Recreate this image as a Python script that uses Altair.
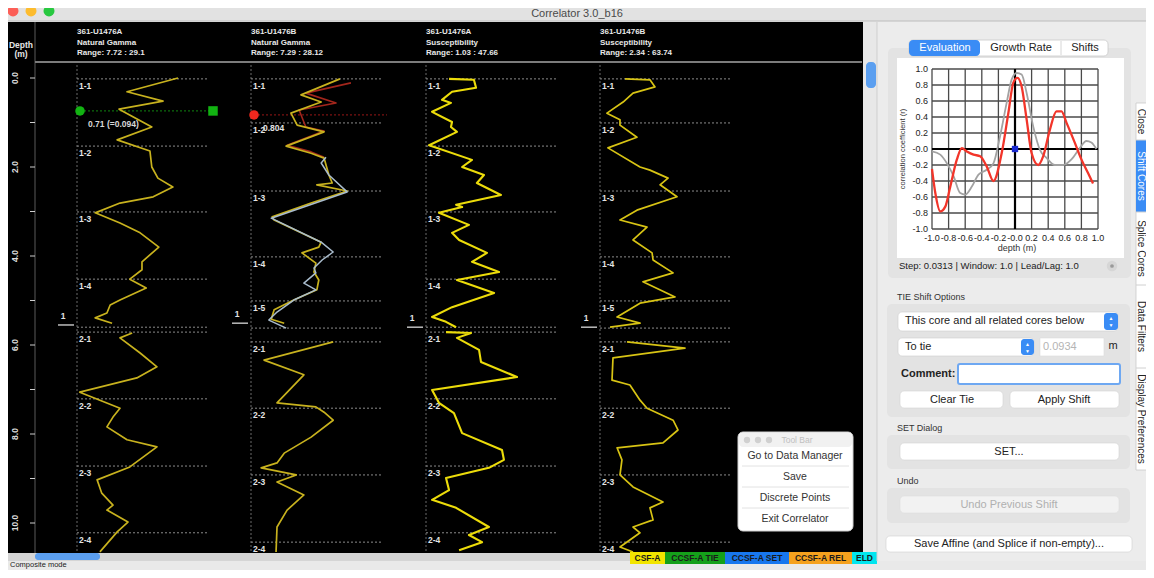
import altair as alt
import pandas as pd

FONT = "Liberation Sans"

# ---------------- data ----------------
TRACK_HOLE = ["361-U1476A", "361-U1476B", "361-U1476A", "361-U1476B"]
TRACK_TYPE = ["Natural Gamma", "Natural Gamma", "Susceptibility", "Susceptibility"]
TRACK_RANGE = ["Range: 7.72 : 29.1", "Range: 7.29 : 28.12", "Range: 1.03 : 47.66", "Range: 2.34 : 63.74"]
TRACK_MIN = [7.72, 7.29, 1.03, 2.34]
TRACK_MAX = [29.1, 28.12, 47.66, 63.74]

# Track 1: U1476A natural gamma
T1_DEPTH_C1 = [0.00, 0.31, 0.52, 0.70, 1.10, 1.39, 1.64, 2.00, 2.25, 2.45, 2.67, 2.81, 3.03, 3.26, 3.48,
               3.80, 4.13, 4.31, 4.52, 4.72, 4.99, 5.10, 5.28, 5.39, 5.51]
T1_VAL_C1 = [29.1, 18.2, 25.9, 16.5, 23.5, 16.1, 23.1, 23.5, 24.8, 28.0, 23.8, 16.7, 11.4, 16.7, 21.0,
             25.0, 21.4, 21.4, 18.8, 22.3, 16.7, 14.6, 13.9, 11.4, 15.0]
T1_DEPTH_C2 = [5.73, 5.84, 6.18, 6.49, 6.74, 7.06, 7.24, 7.42, 7.62, 7.84, 8.13, 8.29, 8.74, 9.03, 9.33,
               9.60, 9.71, 9.98, 10.20, 10.65]
T1_VAL_C2 = [19.3, 16.7, 21.0, 24.6, 20.3, 8.1, 12.4, 16.7, 15.2, 13.9, 18.2, 24.6, 18.8, 11.8, 12.8,
             15.2, 13.9, 18.4, 16.1, 12.4]

# Track 2: U1476B natural gamma
T2_DEPTH_C1 = [0.02, 0.38, 0.54, 0.79, 1.06, 1.21, 1.53, 1.69, 1.80, 2.18, 2.36, 2.40, 2.54, 2.81, 3.12,
               3.19, 3.69, 3.80, 3.93, 4.16, 4.36, 4.54, 4.76, 4.99, 5.21, 5.42, 5.51]
T2_VAL_C1 = [25.6, 17.5, 21.7, 15.4, 16.7, 22.3, 14.4, 19.6, 22.3, 23.3, 24.0, 20.8, 27.1, 19.6, 11.5,
             11.9, 21.7, 21.2, 17.7, 20.6, 20.2, 21.2, 20.8, 16.0, 11.9, 11.3, 14.0]
T2_DEPTH_C2 = [5.93, 6.34, 6.67, 7.30, 7.39, 7.51, 7.69, 8.07, 8.43, 8.65, 8.76, 8.92, 9.08, 9.37, 9.71,
               10.09, 10.65]
T2_VAL_C2 = [24.2, 9.8, 18.1, 12.5, 20.6, 22.3, 24.2, 19.6, 14.0, 12.5, 9.2, 16.5, 12.5, 18.1, 14.6,
             12.5, 12.3]
T2_RED_DEPTH = [0.11, 0.34, 0.56, 0.72, 1.10, 1.19, 1.51, 1.66, 1.78]
T2_RED_VAL = [27.9, 18.5, 24.8, 17.1, 18.5, 22.3, 14.6, 19.6, 22.3]
T2_BLUE_DEPTH = [1.78, 1.91, 2.18, 2.56, 3.15, 3.69, 3.91, 4.09, 4.27, 4.38, 4.61, 4.76, 4.99, 5.26, 5.44, 5.62]
T2_BLUE_VAL = [22.7, 21.7, 23.3, 27.1, 11.3, 21.7, 24.2, 21.9, 20.2, 20.6, 18.1, 20.6, 16.0, 12.5, 10.8, 14.4]

# Track 3: U1476A susceptibility
T3_DEPTH_C1 = [0.02, 0.04, 0.22, 0.31, 0.49, 0.56, 0.76, 0.99, 1.10, 1.21, 1.51, 1.84, 2.00, 2.18, 2.36,
               2.63, 2.85, 2.90, 3.03, 3.30, 3.48, 3.64, 3.93, 4.13, 4.36, 4.54, 4.83, 5.15, 5.37, 5.48, 5.60]
T3_VAL_C1 = [11.3, 22.9, 23.9, 12.7, 8.0, 12.2, 3.4, 12.7, 12.2, 15.0, 2.0, 22.0, 17.4, 27.6, 24.3,
             35.5, 14.6, 17.4, 6.6, 20.6, 12.7, 16.0, 29.0, 22.0, 34.6, 15.0, 32.3, 12.7, 3.4, 9.9, 14.6]
T3_DEPTH_C2 = [5.71, 5.73, 5.84, 6.11, 6.38, 6.72, 7.01, 7.30, 7.53, 7.98, 8.36, 8.58, 8.76, 8.99, 9.26,
               9.48, 9.66, 10.09, 10.27, 10.43, 10.61]
T3_VAL_C2 = [9.9, 21.6, 15.0, 25.3, 26.2, 43.0, 3.4, 6.6, 13.6, 17.4, 36.0, 36.9, 29.9, 9.9, 11.3,
             3.4, 14.6, 29.9, 20.6, 26.7, 16.0]

# Track 4: U1476B susceptibility
T4_DEPTH_C1 = [0.02, 0.04, 0.20, 0.34, 0.54, 0.79, 0.94, 1.06, 1.33, 1.57, 2.00, 2.07, 2.25, 2.40, 2.67,
               2.97, 3.19, 3.35, 3.64, 3.93, 4.09, 4.38, 4.58, 4.92, 5.06, 5.37, 5.51, 5.60]
T4_VAL_C1 = [17.1, 32.4, 35.5, 22.0, 15.9, 6.0, 14.0, 14.0, 24.4, 6.6, 26.3, 32.4, 43.5, 38.6, 49.0,
             24.4, 14.0, 30.6, 22.0, 33.7, 34.3, 46.6, 28.1, 47.8, 26.3, 12.2, 26.3, 7.9]
T4_DEPTH_C2 = [5.93, 6.07, 6.29, 6.79, 6.90, 7.24, 7.42, 7.69, 7.91, 8.20, 8.31, 8.58, 8.92, 9.19, 9.53,
               9.66, 9.93, 10.09, 10.22, 10.54, 10.65]
T4_VAL_C2 = [18.3, 53.9, 9.7, 9.1, 20.1, 26.3, 30.6, 46.6, 49.6, 40.4, 12.2, 15.2, 14.0, 22.0, 40.4,
             32.4, 34.3, 22.0, 26.3, 14.0, 22.0]

# section tops
SECT_A_DEPTH = [0.02, 1.53, 3.01, 4.52, 5.60, 5.71, 7.21, 8.72, 10.22]
SECT_A_LABEL = ["1-1", "1-2", "1-3", "1-4", "", "2-1", "2-2", "2-3", "2-4"]
SECT_B_DEPTH = [0.02, 1.01, 2.54, 4.02, 5.01, 5.62, 5.93, 7.42, 8.92, 10.43]
SECT_B_LABEL = ["1-1", "1-2", "1-3", "1-4", "1-5", "", "2-1", "2-2", "2-3", "2-4"]
CORE_MARK_DEPTH = [5.55, 5.51, 5.60, 5.60]
CORE_MARK_LABEL = ["1", "1", "1", "1"]
TIE_DEPTH = [0.74, 0.83]
TIE_TEXT = ["0.71 (=0.094)", "0.804"]

DEPTH_TICKS = [0, 1, 2, 3, 4, 5, 6, 7, 8, 9, 10]
DEPTH_LABEL_VALUES = [0, 2, 4, 6, 8, 10]
DEPTH_LABELS = ["0.0", "2.0", "4.0", "6.0", "8.0", "10.0"]

# correlation evaluation
CORR_RED_X = [-1.0, -0.96, -0.90, -0.84, -0.78, -0.70, -0.64, -0.58, -0.50, -0.42, -0.34, -0.26, -0.16,
              -0.08, -0.02, 0.03, 0.08, 0.14, 0.20, 0.28, 0.34, 0.42, 0.50, 0.56, 0.62, 0.72, 0.80, 0.88, 0.94]
CORR_RED_Y = [-0.25, -0.55, -0.78, -0.72, -0.47, -0.13, 0.01, -0.03, -0.07, -0.09, -0.22, -0.40, -0.05,
              0.45, 0.83, 0.89, 0.78, 0.37, -0.05, -0.20, -0.09, 0.24, 0.47, 0.47, 0.33, 0.08, -0.13, -0.30, -0.43]
CORR_GRAY_X = [-1.0, -0.90, -0.82, -0.74, -0.66, -0.60, -0.52, -0.44, -0.34, -0.26, -0.18, -0.10, -0.04,
               0.02, 0.08, 0.14, 0.22, 0.30, 0.38, 0.48, 0.58, 0.68, 0.78, 0.86, 0.92, 0.98]
CORR_GRAY_Y = [-0.03, -0.07, -0.18, -0.34, -0.55, -0.57, -0.47, -0.32, -0.26, -0.18, 0.16, 0.58, 0.87,
               0.95, 0.93, 0.70, 0.28, -0.01, -0.11, -0.20, -0.20, -0.13, 0.01, 0.10, 0.08, 0.0]
CORR_TICKS = [-1.0, -0.8, -0.6, -0.4, -0.2, 0.0, 0.2, 0.4, 0.6, 0.8, 1.0]
CORR_X_LABELS = ["-1.0", "-0.8", "-0.6", "-0.4", "-0.2", "-0.0", "0.2", "0.4", "0.6", "0.8", "1.0"]
CORR_Y_LABELS = ["-1.0", "-0.8", "-0.6", "-0.4", "-0.2", "-0.0", "0.2", "0.4", "0.6", "0.8", "1.0"]

LEGEND_LABELS = ["CSF-A", "CCSF-A TIE", "CCSF-A SET", "CCSF-A REL", "ELD"]
LEGEND_COLORS = ["#f2e500", "#15a01a", "#1877ee", "#f5a11e", "#00e6ef"]

TOOLBAR_ITEMS = ["Go to Data Manager", "Save", "Discrete Points", "Exit Correlator"]
SIDE_TABS = ["Close", "Shift Cores", "Splice Cores", "Data Filters", "Display Preferences"]

# ---------------- helpers ----------------
BLANK = pd.DataFrame({"k": [0]})
layers = []


def box(x1, y1, x2, y2, fill, stroke=None, sw=1.0, r=0, op=1.0):
    kw = dict(fill=fill, cornerRadius=r, opacity=op)
    if stroke:
        kw.update(stroke=stroke, strokeWidth=sw)
    else:
        kw.update(strokeWidth=0)
    layers.append(alt.Chart(BLANK).mark_rect(**kw).encode(
        x=alt.value(x1), x2=alt.value(x2), y=alt.value(y1), y2=alt.value(y2)))


def label(x, y, s, size=10, color="#222", align="left", weight="normal", angle=0):
    kw = dict(text=s, align=align, baseline="middle", fontSize=size, color=color,
              fontWeight=weight, font=FONT)
    if angle:
        kw["angle"] = angle
    layers.append(alt.Chart(BLANK).mark_text(**kw).encode(x=alt.value(x), y=alt.value(y)))


def seg(x1, y1, x2, y2, color, sw=1.0, dash=None):
    kw = dict(color=color, strokeWidth=sw)
    if dash:
        kw["strokeDash"] = dash
    layers.append(alt.Chart(BLANK).mark_rule(**kw).encode(
        x=alt.value(x1), x2=alt.value(x2), y=alt.value(y1), y2=alt.value(y2)))


def dot(x, y, color, size, shape="circle"):
    layers.append(alt.Chart(BLANK).mark_point(shape=shape, filled=True, size=size, color=color, opacity=1)
                  .encode(x=alt.value(x), y=alt.value(y)))


def dscale():
    return alt.Scale(domain=[0, 10], range=[78, 523], zero=False, nice=False)


TRACK_X = [77, 251, 426, 600]


def tscale(i):
    return alt.Scale(domain=[TRACK_MIN[i], TRACK_MAX[i]], range=[TRACK_X[i] + 1, TRACK_X[i] + 101],
                     zero=False, nice=False)


def log_line(i, depths, vals, color, width):
    df = pd.DataFrame({"depth": depths, "val": vals, "n": list(range(len(depths)))})
    layers.append(alt.Chart(df).mark_line(color=color, strokeWidth=width, strokeJoin="round").encode(
        x=alt.X("val:Q", scale=tscale(i), axis=None),
        y=alt.Y("depth:Q", scale=dscale(), axis=None),
        order=alt.Order("n:Q")))


# ---------------- window chrome ----------------
box(0, 0, 1154, 21, "#e2e2e2")
seg(0, 21, 1154, 21, "#bcbcbc")
label(577, 14, "Correlator 3.0_b16", size=11, color="#4a4a4a", align="center")
dot(13, 11, "#fc5f57", 120)
dot(31, 11, "#fdbc2e", 120)
dot(49, 11, "#28c840", 120)

# main black panel
box(5, 22, 863, 553, "#000000")
box(863, 22, 877, 553, "#e8e8e8")
box(866, 62, 876, 88, "#5b9ff0", r=4)
box(5, 553, 877, 561, "#d5d5d5")
box(35, 553, 100, 560, "#5b9ff0", r=3)
box(0, 561, 1154, 578, "#e9e9e9")
label(10, 565, "Composite mode", size=7.5, color="#222")

seg(35, 22, 35, 553, "#5a5a5a", 1)
seg(35, 62, 862, 62, "#7c7c7c", 2)
label(21, 45, "Depth", size=8.5, color="#e6e6e6", align="center", weight="bold")
label(21, 54, "(m)", size=8.5, color="#e6e6e6", align="center", weight="bold")

# depth axis through depth scale
dt = pd.DataFrame({"d": DEPTH_TICKS})
layers.append(alt.Chart(dt).mark_rule(color="#cfcfcf", strokeWidth=1).encode(
    x=alt.value(30), x2=alt.value(35), y=alt.Y("d:Q", scale=dscale(), axis=None)))
dl = pd.DataFrame({"d": DEPTH_LABEL_VALUES, "t": DEPTH_LABELS})
layers.append(alt.Chart(dl).mark_text(angle=270, fontSize=8.5, fontWeight="bold", color="#dcdcdc",
                                      font=FONT, align="center", baseline="middle").encode(
    x=alt.value(15), y=alt.Y("d:Q", scale=dscale(), axis=None), text="t:N"))

# track headers and frames
for i, tx in enumerate(TRACK_X):
    label(tx, 32, TRACK_HOLE[i], size=8, color="#e8e8e8", weight="bold")
    label(tx, 43, TRACK_TYPE[i], size=8, color="#e8e8e8", weight="bold")
    label(tx, 53, TRACK_RANGE[i], size=8, color="#e8e8e8", weight="bold")
    seg(tx, 65, tx, 553, "#6a6a6a", 1, [2, 2])
    sd = SECT_A_DEPTH if i in (0, 2) else SECT_B_DEPTH
    sl = SECT_A_LABEL if i in (0, 2) else SECT_B_LABEL
    sdf = pd.DataFrame({"d": sd, "t": sl})
    layers.append(alt.Chart(sdf).mark_rule(color="#8c8c8c", strokeWidth=1, strokeDash=[2, 2]).encode(
        x=alt.value(tx), x2=alt.value(tx + 131), y=alt.Y("d:Q", scale=dscale(), axis=None)))
    layers.append(alt.Chart(sdf).mark_text(align="left", baseline="middle", dy=7, fontSize=8.5,
                                           fontWeight="bold", color="#e4e4e4", font=FONT).encode(
        x=alt.value(tx + 2), y=alt.Y("d:Q", scale=dscale(), axis=None), text="t:N"))
    cm = pd.DataFrame({"d": [CORE_MARK_DEPTH[i]], "t": [CORE_MARK_LABEL[i]]})
    layers.append(alt.Chart(cm).mark_rule(color="#bdbdbd", strokeWidth=1.5).encode(
        x=alt.value(tx - 19), x2=alt.value(tx - 3), y=alt.Y("d:Q", scale=dscale(), axis=None)))
    layers.append(alt.Chart(cm).mark_text(align="center", baseline="middle", dy=-9, fontSize=8.5,
                                          fontWeight="bold", color="#e4e4e4", font=FONT).encode(
        x=alt.value(tx - 14), y=alt.Y("d:Q", scale=dscale(), axis=None), text="t:N"))

# tie markers
tie1 = pd.DataFrame({"d": [TIE_DEPTH[0]], "t": [TIE_TEXT[0]]})
tie2 = pd.DataFrame({"d": [TIE_DEPTH[1]], "t": [TIE_TEXT[1]]})
layers.append(alt.Chart(tie1).mark_rule(color="#0c6a0c", strokeWidth=1.2, strokeDash=[2, 2]).encode(
    x=alt.value(80), x2=alt.value(213), y=alt.Y("d:Q", scale=dscale(), axis=None)))
layers.append(alt.Chart(tie1).mark_point(shape="circle", filled=True, size=90, color="#12b312", opacity=1).encode(
    x=alt.value(80), y=alt.Y("d:Q", scale=dscale(), axis=None)))
layers.append(alt.Chart(tie1).mark_point(shape="square", filled=True, size=90, color="#12b312", opacity=1).encode(
    x=alt.value(213), y=alt.Y("d:Q", scale=dscale(), axis=None)))
layers.append(alt.Chart(tie1).mark_text(align="left", baseline="middle", dy=13, fontSize=8.5,
                                        fontWeight="bold", color="#d8d8d8", font=FONT).encode(
    x=alt.value(88), y=alt.Y("d:Q", scale=dscale(), axis=None), text="t:N"))
layers.append(alt.Chart(tie2).mark_rule(color="#7a1212", strokeWidth=1.2, strokeDash=[2, 2]).encode(
    x=alt.value(254), x2=alt.value(387), y=alt.Y("d:Q", scale=dscale(), axis=None)))
layers.append(alt.Chart(tie2).mark_point(shape="circle", filled=True, size=90, color="#f0281e", opacity=1).encode(
    x=alt.value(254), y=alt.Y("d:Q", scale=dscale(), axis=None)))
layers.append(alt.Chart(tie2).mark_text(align="left", baseline="middle", dy=13, fontSize=8.5,
                                        fontWeight="bold", color="#e4e4e4", font=FONT).encode(
    x=alt.value(263), y=alt.Y("d:Q", scale=dscale(), axis=None), text="t:N"))

# log curves
GOLD = "#c8b21e"
log_line(0, T1_DEPTH_C1, T1_VAL_C1, GOLD, 1.7)
log_line(0, T1_DEPTH_C2, T1_VAL_C2, GOLD, 1.7)
log_line(1, T2_RED_DEPTH, T2_RED_VAL, "#a3261c", 1.6)
log_line(1, T2_DEPTH_C1, T2_VAL_C1, GOLD, 1.7)
log_line(1, T2_BLUE_DEPTH, T2_BLUE_VAL, "#a9bccd", 1.5)
log_line(1, T2_DEPTH_C2, T2_VAL_C2, GOLD, 1.7)
log_line(2, T3_DEPTH_C1, T3_VAL_C1, "#ecdc0a", 2.1)
log_line(2, T3_DEPTH_C2, T3_VAL_C2, "#ecdc0a", 2.1)
log_line(3, T4_DEPTH_C1, T4_VAL_C1, "#d8c414", 1.7)
log_line(3, T4_DEPTH_C2, T4_VAL_C2, "#d8c414", 1.7)

# legend strip
LEG_X = [630, 665, 725, 789, 852, 877]
for i, (lab, col) in enumerate(zip(LEGEND_LABELS, LEGEND_COLORS)):
    box(LEG_X[i], 552, LEG_X[i + 1], 564, col)
    label((LEG_X[i] + LEG_X[i + 1]) / 2, 558, lab, size=8.5, color="#1a1a1a", align="center", weight="bold")

# tool bar popup
box(738, 432, 853, 531, "#ffffff", stroke="#cfcfcf", r=5)
box(739, 433, 852, 447, "#f1f1f1", r=4)
for cx in (747, 758, 769):
    dot(cx, 440, "#d0d0d0", 40)
label(797, 440, "Tool Bar", size=8.5, color="#c0c0c0", align="center")
for k, item in enumerate(TOOLBAR_ITEMS):
    yy = 456 + k * 21
    label(795, yy, item, size=10.5, color="#333", align="center")
    if k < 3:
        seg(742, yy + 10, 849, yy + 10, "#e2e2e2", 1)

# ---------------- right panel ----------------
seg(877, 22, 877, 561, "#cfcfcf", 1)
box(888, 48, 1131, 278, "#e3e3e3", r=5)
box(897, 58, 1124, 258, "#ffffff")
box(909, 40, 1108, 56, "#ffffff", stroke="#c9c9c9", sw=0.8, r=4)
box(909, 40, 980, 56, "#3a8cf5", r=4)
seg(1061, 41, 1061, 55, "#d6d6d6", 1)
label(945, 48, "Evaluation", size=11, color="#ffffff", align="center")
label(1021, 48, "Growth Rate", size=11, color="#222", align="center")
label(1085, 48, "Shifts", size=11, color="#222", align="center")

CX = alt.Scale(domain=[-1, 1], range=[932, 1098], zero=False, nice=False)
CY = alt.Scale(domain=[-1, 1], range=[229, 69], zero=False, nice=False)
grid = pd.DataFrame({"v": CORR_TICKS, "lo": [-1.0] * 11, "hi": [1.0] * 11,
                     "xl": CORR_X_LABELS, "yl": CORR_Y_LABELS})
layers.append(alt.Chart(grid).mark_rule(color="#4a4a4a", strokeWidth=1.3).encode(
    x=alt.X("v:Q", scale=CX, axis=None), y=alt.Y("lo:Q", scale=CY, axis=None), y2="hi:Q"))
layers.append(alt.Chart(grid).mark_rule(color="#4a4a4a", strokeWidth=1.3).encode(
    y=alt.Y("v:Q", scale=CY, axis=None), x=alt.X("lo:Q", scale=CX, axis=None), x2="hi:Q"))
zero = pd.DataFrame({"z": [0.0], "lo": [-1.0], "hi": [1.0]})
layers.append(alt.Chart(zero).mark_rule(color="#000", strokeWidth=2.2).encode(
    x=alt.X("z:Q", scale=CX, axis=None), y=alt.Y("lo:Q", scale=CY, axis=None), y2="hi:Q"))
layers.append(alt.Chart(zero).mark_rule(color="#000", strokeWidth=2.2).encode(
    y=alt.Y("z:Q", scale=CY, axis=None), x=alt.X("lo:Q", scale=CX, axis=None), x2="hi:Q"))
layers.append(alt.Chart(grid).mark_text(fontSize=9, color="#222", font=FONT, align="center",
                                        baseline="middle", dy=9).encode(
    x=alt.X("v:Q", scale=CX, axis=None), y=alt.Y("lo:Q", scale=CY, axis=None), text="xl:N"))
layers.append(alt.Chart(grid).mark_text(fontSize=9, color="#222", font=FONT, align="right",
                                        baseline="middle", dx=-4).encode(
    y=alt.Y("v:Q", scale=CY, axis=None), x=alt.X("lo:Q", scale=CX, axis=None), text="yl:N"))
gray = pd.DataFrame({"x": CORR_GRAY_X, "y": CORR_GRAY_Y})
layers.append(alt.Chart(gray).mark_line(color="#a2a2a2", strokeWidth=1.8, interpolate="monotone").encode(
    x=alt.X("x:Q", scale=CX, axis=None), y=alt.Y("y:Q", scale=CY, axis=None)))
red = pd.DataFrame({"x": CORR_RED_X, "y": CORR_RED_Y})
layers.append(alt.Chart(red).mark_line(color="#f2352a", strokeWidth=2.3, interpolate="monotone").encode(
    x=alt.X("x:Q", scale=CX, axis=None), y=alt.Y("y:Q", scale=CY, axis=None)))
layers.append(alt.Chart(zero).mark_point(shape="square", filled=True, size=40, color="#1a2ad0", opacity=1).encode(
    x=alt.X("z:Q", scale=CX, axis=None), y=alt.Y("z:Q", scale=CY, axis=None)))
label(903, 149, "correlation coefficient (r)", size=7.5, color="#333", align="center", angle=270)
label(1017, 248, "depth (m)", size=9, color="#333", align="center")
label(899, 266, "Step: 0.0313 | Window: 1.0 | Lead/Lag: 1.0", size=9.5, color="#222")
dot(1112, 266, "#d6d6d6", 110)
dot(1112, 266, "#9a9a9a", 14)

# side tabs (right edge of the window is partly off-page)
box(1136, 103, 1154, 470, "#ffffff", stroke="#cacaca", sw=0.8)
box(1136, 140, 1154, 212, "#3a8cf5")
TAB_Y = [103, 140, 212, 285, 368, 470]
for k, t in enumerate(SIDE_TABS):
    if 0 < k:
        seg(1136, TAB_Y[k], 1154, TAB_Y[k], "#d0d0d0", 1)
    label(1141, (TAB_Y[k] + TAB_Y[k + 1]) / 2, t, size=10,
          color="#ffffff" if k == 1 else "#222", align="center", angle=90)

# TIE shift options
label(897, 297, "TIE Shift Options", size=9, color="#333")
box(887, 304, 1130, 417, "#e3e3e3", r=5)
box(898, 312, 1118, 331, "#ffffff", stroke="#cfcfcf", sw=0.6, r=4)
box(1104, 313, 1118, 330, "#3a8cf5", r=3)
label(905, 321, "This core and all related cores below", size=11, color="#222")
label(1111, 318, "▲", size=5, color="#fff", align="center")
label(1111, 325, "▼", size=5, color="#fff", align="center")
box(898, 338, 1034, 356, "#ffffff", stroke="#cfcfcf", sw=0.6, r=4)
box(1021, 339, 1034, 355, "#3a8cf5", r=3)
label(905, 347, "To tie", size=11, color="#222")
label(1027.5, 344, "▲", size=5, color="#fff", align="center")
label(1027.5, 351, "▼", size=5, color="#fff", align="center")
box(1040, 338, 1104, 356, "#ffffff", stroke="#dcdcdc", sw=0.6)
label(1043, 347, "0.0934", size=11, color="#b4b4b4")
label(1113, 346, "m", size=11, color="#222", align="center")
label(901, 374, "Comment:", size=11, color="#222", weight="bold")
box(958, 364, 1120, 384, "#ffffff", stroke="#6ea8f2", sw=2, r=2)
box(900, 391, 1003, 408, "#ffffff", stroke="#d4d4d4", sw=0.6, r=4)
label(952, 400, "Clear Tie", size=11, color="#222", align="center")
box(1010, 391, 1119, 408, "#ffffff", stroke="#d4d4d4", sw=0.6, r=4)
label(1064, 400, "Apply Shift", size=11, color="#222", align="center")

label(897, 428, "SET Dialog", size=9, color="#333")
box(887, 435, 1130, 469, "#e3e3e3", r=5)
box(900, 443, 1119, 460, "#ffffff", stroke="#d4d4d4", sw=0.6, r=4)
label(1009, 452, "SET...", size=11, color="#222", align="center")

label(897, 481, "Undo", size=9, color="#333")
box(887, 488, 1130, 523, "#e3e3e3", r=5)
box(900, 496, 1119, 513, "#f2f2f2", stroke="#dddddd", sw=0.6, r=4)
label(1009, 505, "Undo Previous Shift", size=11, color="#b0b0b0", align="center")

box(886, 536, 1132, 552, "#ffffff", stroke="#d0d0d0", sw=0.6, r=4)
label(1009, 544, "Save Affine (and Splice if non-empty)...", size=11, color="#222", align="center")

# the page has an 8px margin: shift the drawing so window pixels land where they are in the screenshot,
# and keep the svg inside the 1138 x 562 content box of the page
chart = alt.layer(*layers).resolve_scale(x="independent", y="independent").properties(
    width=1154, height=570,
    padding={"left": -8, "top": -8, "right": -8, "bottom": 0},
    autosize=alt.AutoSizeParams(type="none"),
    background="#ececec",
).configure_view(stroke=None)

chart.save("out.html", embed_options={"renderer": "svg", "actions": False})
